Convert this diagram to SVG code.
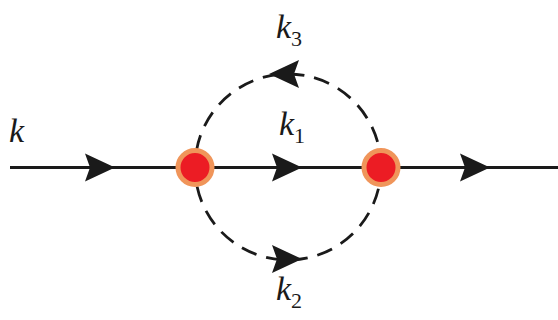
<svg xmlns="http://www.w3.org/2000/svg" width="558" height="320" viewBox="0 0 558 320">
<style>
.ln{stroke:#1a1a1a;stroke-width:3.2;fill:none}
.ds{stroke:#1a1a1a;stroke-width:2.8;fill:none;stroke-dasharray:16 10}
.ah{fill:#1a1a1a}
.v{fill:#ec1c24;stroke:#f0955a;stroke-width:5}
</style>
<defs>
<path id="arr" d="M15,0 L-15,-14 L-10,0 L-15,14 Z"/>
</defs>
<g id="connectors">
<line class="ln" x1="10" y1="167.5" x2="558" y2="167.5"/>
<circle class="ds" cx="288" cy="167" r="93" stroke-dashoffset="4"/>
<use href="#arr" class="ah" transform="translate(100,167.5)"/>
<use href="#arr" class="ah" transform="translate(287,167.5)"/>
<use href="#arr" class="ah" transform="translate(475,167.5)"/>
<use href="#arr" class="ah" transform="translate(284,74) rotate(180)"/>
<use href="#arr" class="ah" transform="translate(287,259)"/>
</g>
<g id="v1"><circle class="v" cx="195" cy="167.5" r="17"/></g>
<g id="v2"><circle class="v" cx="381" cy="167.5" r="17"/></g>
<g id="labels" font-family="Liberation Serif, serif" fill="#1a1a1a">
<text x="9" y="142" font-style="italic" font-size="34">k</text>
<text x="276" y="38" font-style="italic" font-size="34">k<tspan font-style="normal" font-size="22" dy="8">3</tspan></text>
<text x="279" y="135" font-style="italic" font-size="34">k<tspan font-style="normal" font-size="22" dy="8">1</tspan></text>
<text x="276" y="300" font-style="italic" font-size="34">k<tspan font-style="normal" font-size="22" dy="8">2</tspan></text>
</g>
</svg>
